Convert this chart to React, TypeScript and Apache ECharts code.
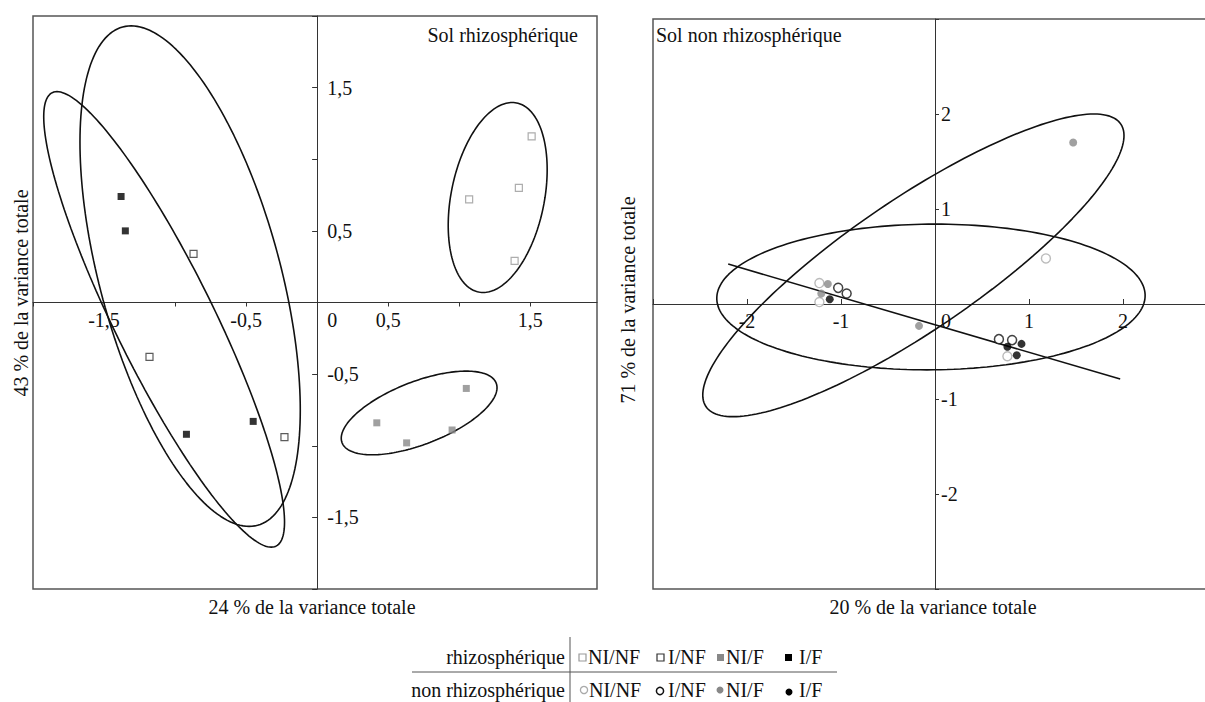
import { useEffect, useRef } from 'react';
import * as echarts from 'echarts';

// ---- Sol rhizosphérique (left panel), CP1 (24 %) x CP2 (43 %)
const rhizoNINF = [[1.07, 0.72], [1.51, 1.16], [1.42, 0.80], [1.39, 0.29]];
const rhizoINF = [[-0.87, 0.34], [-1.18, -0.38], [-0.23, -0.94]];
const rhizoNIF = [[0.42, -0.84], [0.63, -0.98], [0.95, -0.89], [1.05, -0.60]];
const rhizoIF = [[-1.38, 0.74], [-1.35, 0.50], [-0.92, -0.92], [-0.45, -0.83]];

// ---- Sol non rhizosphérique (right panel), CP1 (20 %) x CP2 (71 %)
const nonNINF = [[-1.23, 0.22], [-1.23, 0.02], [1.18, 0.48], [0.77, -0.55]];
const nonINF = [[-1.03, 0.17], [-0.94, 0.11], [0.68, -0.37], [0.82, -0.38]];
const nonNIF = [[-1.14, 0.21], [-1.21, 0.11], [-0.17, -0.23], [1.47, 1.70]];
const nonIF = [[-1.12, 0.05], [0.92, -0.42], [0.77, -0.45], [0.87, -0.54]];

// Ellipses: [centerX, centerY, halfChordAtCenter, xShiftAtTop, halfHeight]
const leftEllipses = [
  [-0.894, 0.184, 0.655, -0.415, 1.747],
  [-1.077, -0.118, 0.387, -0.754, 1.59],
  [1.271, 0.733, 0.333, 0.102, 0.663],
  [0.718, -0.771, 0.437, 0.331, 0.292],
];
const rightEllipses = [
  [-0.043, 0.074, 2.278, 0.043, 0.767],
  [-0.23, 0.407, 1.155, 1.92, 1.593],
];
const regressionLine = [[-2.2, 0.42], [1.97, -0.79]];

// Tick labels
const leftXLabels: Record<string, string> = { '-1.5': '-1,5', '-0.5': '-0,5', '0': '0', '0.5': '0,5', '1.5': '1,5' };
const leftYLabels: Record<string, string> = { '-1.5': '-1,5', '-0.5': '-0,5', '0.5': '0,5', '1.5': '1,5' };
const rightXLabels: Record<string, string> = { '-2': '-2', '-1': '-1', '0': '0', '1': '1', '2': '2' };
const rightYLabels: Record<string, string> = { '-2': '-2', '-1': '-1', '1': '1', '2': '2' };

const FONT = '"Liberation Serif", "Times New Roman", serif';
const FS = 20;
const INK = '#111';

// Layout of the two plotting frames (pixels)
const G0 = { left: 33, top: 16, width: 564, height: 573 };
const G1 = { left: 653, top: 19, width: 564, height: 570 };
const X0 = [-2, 1.97];
const Y0 = [-2, 2];
const X1 = [-3, 3];
const Y1 = [-3, 3];

function ellipsePoints(p: number[]) {
  const [cx, cy, a, b, c] = p;
  const pts: number[][] = [];
  for (let i = 0; i <= 200; i++) {
    const t = (i / 200) * 2 * Math.PI;
    pts.push([cx + a * Math.cos(t) + b * Math.sin(t), cy + c * Math.sin(t)]);
  }
  return pts;
}

function key(v: number) {
  return String(Math.round(v * 100) / 100);
}

function labelFmt(map: Record<string, string>) {
  return (v: number) => {
    const k = key(v);
    const s = map[k];
    if (s === undefined) return '';
    if (k === '0') return '{z|0}';
    return s;
  };
}

function text(t: string, x: number, y: number, align = 'left', rotation = 0, size = FS) {
  return {
    type: 'text',
    x,
    y,
    rotation,
    silent: true,
    style: {
      text: t,
      font: `${size}px ${FONT}`,
      fill: INK,
      align,
      verticalAlign: 'middle',
      textAlign: align,
      textVerticalAlign: 'middle',
    },
  };
}

// offset that moves an axis from the frame edge to the zero line
function xOffset(g: any, y: number[]) {
  const zero = g.top + g.height * (y[1] / (y[1] - y[0]));
  return -(g.top + g.height - zero);
}
function yOffset(g: any, x: number[]) {
  const zero = g.left + g.width * (-x[0] / (x[1] - x[0]));
  return -(zero - g.left);
}

export default function App() {
  const ref = useRef<HTMLDivElement>(null);

  useEffect(() => {
    if (!ref.current) return;
    const chart = echarts.init(ref.current, null, { renderer: 'svg' });

    const axisLine = { onZero: false, lineStyle: { color: '#333', width: 1 } };
    const labelBase = { color: INK, fontSize: FS, fontFamily: FONT };

    const ellipseSeries = (list: number[][], gi: number) =>
      list.map((p) => ({
        type: 'line',
        xAxisIndex: gi,
        yAxisIndex: gi,
        data: ellipsePoints(p),
        showSymbol: false,
        symbol: 'none',
        silent: true,
        z: 2,
        lineStyle: { color: INK, width: 1.6 },
      }));

    const scatter = (data: number[][], gi: number, symbol: string, size: number, style: any) => ({
      type: 'scatter',
      xAxisIndex: gi,
      yAxisIndex: gi,
      data,
      symbol,
      symbolSize: size,
      z: 4,
      itemStyle: style,
    });

    const option: any = {
      animation: false,
      backgroundColor: '#fff',
      grid: [
        { ...G0, show: true, borderColor: '#555', borderWidth: 1.5, containLabel: false, outerBoundsMode: 'none' },
        { ...G1, show: true, borderColor: '#555', borderWidth: 1.5, containLabel: false, outerBoundsMode: 'none' },
      ],
      xAxis: [
        {
          gridIndex: 0, type: 'value', min: X0[0], max: X0[1], interval: 0.5, position: 'bottom',
          offset: xOffset(G0, Y0),
          axisLine, splitLine: { show: false },
          axisTick: { show: true, length: 4, lineStyle: { color: '#333' } },
          axisLabel: { ...labelBase, margin: 7, formatter: labelFmt(leftXLabels), showMaxLabel: false,
            rich: { z: { ...labelBase, padding: [0, 0, 0, 30] } } },
        },
        {
          gridIndex: 1, type: 'value', min: X1[0], max: X1[1], interval: 1, position: 'bottom',
          offset: xOffset(G1, Y1),
          axisLine, splitLine: { show: false },
          axisTick: { show: true, inside: true, length: 5, lineStyle: { color: '#333' } },
          axisLabel: { ...labelBase, margin: 7, formatter: labelFmt(rightXLabels),
            rich: { z: { ...labelBase, padding: [0, 0, 0, 22] } } },
        },
      ],
      yAxis: [
        {
          gridIndex: 0, type: 'value', min: Y0[0], max: Y0[1], interval: 0.5, position: 'left',
          offset: yOffset(G0, X0),
          axisLine, splitLine: { show: false },
          axisTick: { show: true, length: 5, lineStyle: { color: '#333' } },
          axisLabel: { ...labelBase, inside: true, margin: 10, formatter: labelFmt(leftYLabels) },
        },
        {
          gridIndex: 1, type: 'value', min: Y1[0], max: Y1[1], interval: 1, position: 'left',
          offset: yOffset(G1, X1),
          axisLine, splitLine: { show: false },
          axisTick: { show: true, inside: true, length: 4, lineStyle: { color: '#333' } },
          axisLabel: { ...labelBase, inside: true, margin: 6, formatter: labelFmt(rightYLabels) },
        },
      ],
      series: [
        ...ellipseSeries(leftEllipses, 0),
        ...ellipseSeries(rightEllipses, 1),
        {
          type: 'line', xAxisIndex: 1, yAxisIndex: 1, data: regressionLine,
          showSymbol: false, symbol: 'none', silent: true, z: 2,
          lineStyle: { color: INK, width: 1.6 },
        },
        scatter(rhizoNINF, 0, 'rect', 7, { color: '#fff', borderColor: '#999', borderWidth: 1.2 }),
        scatter(rhizoINF, 0, 'rect', 7, { color: '#fff', borderColor: '#333', borderWidth: 1.2 }),
        scatter(rhizoNIF, 0, 'rect', 7, { color: '#888' }),
        scatter(rhizoIF, 0, 'rect', 7, { color: '#000' }),
        scatter(nonNINF, 1, 'circle', 9, { color: '#fff', borderColor: '#aaa', borderWidth: 1.4 }),
        scatter(nonINF, 1, 'circle', 9, { color: '#fff', borderColor: '#111', borderWidth: 1.5 }),
        scatter(nonNIF, 1, 'circle', 8, { color: '#888' }),
        scatter(nonIF, 1, 'circle', 8, { color: '#000' }),
      ],
      graphic: [
        text('Sol rhizosphérique', 578, 35, 'right'),
        text('Sol non rhizosphérique', 656, 35, 'left'),
        text('24 % de la variance totale', 312, 607, 'center'),
        text('20 % de la variance totale', 933, 607, 'center'),
        text('43 % de la variance totale', 21, 293, 'center', Math.PI / 2),
        text('71 % de la variance totale', 628, 300, 'center', Math.PI / 2),
        // legend table
        { type: 'line', silent: true, shape: { x1: 570, y1: 637, x2: 570, y2: 702 }, style: { stroke: '#555', lineWidth: 1 } },
        { type: 'line', silent: true, shape: { x1: 412, y1: 672, x2: 837, y2: 672 }, style: { stroke: '#555', lineWidth: 1 } },
        text('rhizosphérique', 565, 657, 'right'),
        text('non rhizosphérique', 565, 690, 'right'),
        { type: 'rect', silent: true, shape: { x: 579, y: 654, width: 7, height: 7 }, style: { fill: '#fff', stroke: '#999', lineWidth: 1.2 } },
        text('NI/NF', 588, 657),
        { type: 'rect', silent: true, shape: { x: 657, y: 654, width: 7, height: 7 }, style: { fill: '#fff', stroke: '#333', lineWidth: 1.2 } },
        text('I/NF', 668, 657),
        { type: 'rect', silent: true, shape: { x: 717, y: 654, width: 7, height: 7 }, style: { fill: '#888' } },
        text('NI/F', 726, 657),
        { type: 'rect', silent: true, shape: { x: 785, y: 654, width: 7, height: 7 }, style: { fill: '#000' } },
        text('I/F', 799, 657),
        { type: 'circle', silent: true, shape: { cx: 584, cy: 690, r: 3.6 }, style: { fill: '#fff', stroke: '#aaa', lineWidth: 1.3 } },
        text('NI/NF', 589, 690),
        { type: 'circle', silent: true, shape: { cx: 660, cy: 691, r: 3.6 }, style: { fill: '#fff', stroke: '#111', lineWidth: 1.5 } },
        text('I/NF', 668, 690),
        { type: 'circle', silent: true, shape: { cx: 720, cy: 690, r: 3.5 }, style: { fill: '#888' } },
        text('NI/F', 726, 690),
        { type: 'circle', silent: true, shape: { cx: 789, cy: 692, r: 3.5 }, style: { fill: '#000' } },
        text('I/F', 799, 690),
      ],
    };

    chart.setOption(option);
    return () => chart.dispose();
  }, []);

  return <div ref={ref} style={{ position: 'fixed', left: 0, top: 0, width: 1205, height: 702, background: '#fff' }} />;
}
